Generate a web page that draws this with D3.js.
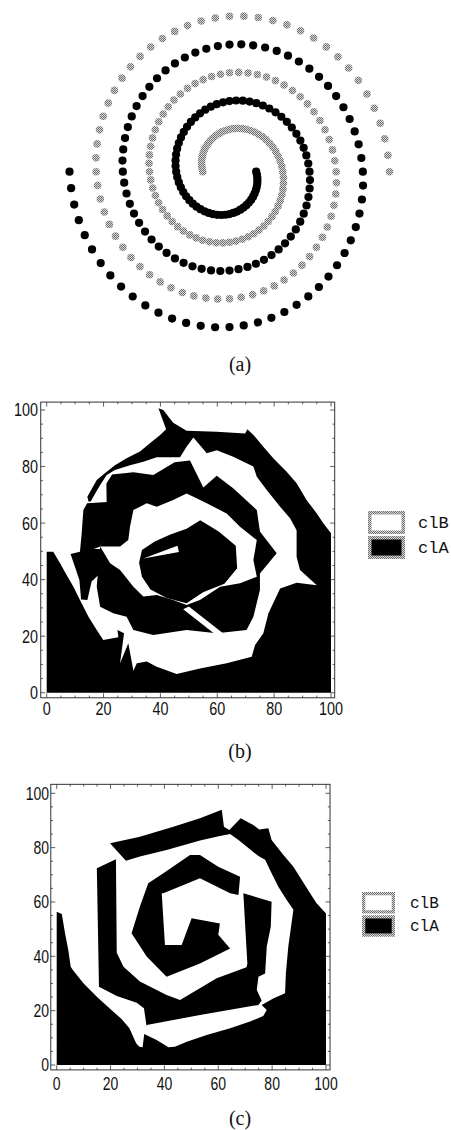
<!DOCTYPE html>
<html><head><meta charset="utf-8">
<script src="https://cdn.jsdelivr.net/npm/d3@7"></script>
<style>html,body{margin:0;padding:0;background:#fff;}svg{display:block}</style>
</head><body>
<svg id="chart" width="451" height="1130"></svg>
<script>
// ---------------- DATA ----------------
// Panel (a): two spirals, polar readings (angle in degrees, radius in spiral units)
const grayAngle = [0,5.6,11.3,16.9,22.5,28.1,33.8,39.4,45,50.6,56.3,61.9,67.5,73.1,78.8,84.4,
90,95.6,101.3,106.9,112.5,118.1,123.8,129.4,135,140.6,146.3,151.9,157.5,163.1,168.8,174.4,
180,185.6,191.3,196.9,202.5,208.1,213.8,219.4,225,230.6,236.3,241.9,247.5,253.1,258.8,264.4,
270,275.6,281.3,286.9,292.5,298.1,303.8,309.4,315,320.6,326.3,331.9,337.5,343.1,348.8,354.4,
360,365.6,371.3,376.9,382.5,388.1,393.8,399.4,405,410.6,416.3,421.9,427.5,433.1,438.8,444.4,
450,455.6,461.3,466.9,472.5,478.1,483.8,489.4,495,500.6,506.3,511.9,517.5,523.1,528.8,534.4,
540,545.6,551.3,556.9,562.5,568.1,573.8,579.4,585,590.6,596.3,601.9,607.5,613.1,618.8,624.4,
630,635.6,641.3,646.9,652.5,658.1,663.8,669.4,675,680.6,686.3,691.9,697.5,703.1,708.8,714.4,
720,725.6,731.3,736.9,742.5,748.1,753.8,759.4,765,770.6,776.3,781.9,787.5,793.1,798.8,804.4,
810,815.6,821.3,826.9,832.5,838.1,843.8,849.4,855,860.6,866.3,871.9,877.5,883.1,888.8,894.4,900];
const blackAngle = [180,185.6,191.3,196.9,202.5,208.1,213.8,219.4,225,230.6,236.3,241.9,247.5,253.1,258.8,264.4,
270,275.6,281.3,286.9,292.5,298.1,303.8,309.4,315,320.6,326.3,331.9,337.5,343.1,348.8,354.4,
360,365.6,371.3,376.9,382.5,388.1,393.8,399.4,405,410.6,416.3,421.9,427.5,433.1,438.8,444.4,
450,455.6,461.3,466.9,472.5,478.1,483.8,489.4,495,500.6,506.3,511.9,517.5,523.1,528.8,534.4,
540,545.6,551.3,556.9,562.5,568.1,573.8,579.4,585,590.6,596.3,601.9,607.5,613.1,618.8,624.4,
630,635.6,641.3,646.9,652.5,658.1,663.8,669.4,675,680.6,686.3,691.9,697.5,703.1,708.8,714.4,
720,725.6,731.3,736.9,742.5,748.1,753.8,759.4,765,770.6,776.3,781.9,787.5,793.1,798.8,804.4,
810,815.6,821.3,826.9,832.5,838.1,843.8,849.4,855,860.6,866.3,871.9,877.5,883.1,888.8,894.4,
900,905.6,911.3,916.9,922.5,928.1,933.8,939.4,945,950.6,956.3,961.9,967.5,973.1,978.8,984.4,
990,995.6,1001.3,1006.9,1012.5,1018.1,1023.8,1029.4,1035,1040.6,1046.3,1051.9,1057.5,1063.1,1068.8,1074.4,1080];
const spiralRadius = [3,2.984,2.969,2.953,2.938,2.922,2.906,2.891,2.875,2.859,2.844,2.828,2.813,2.797,2.781,2.766,
2.75,2.734,2.719,2.703,2.688,2.672,2.656,2.641,2.625,2.609,2.594,2.578,2.563,2.547,2.531,2.516,
2.5,2.484,2.469,2.453,2.438,2.422,2.406,2.391,2.375,2.359,2.344,2.328,2.313,2.297,2.281,2.266,
2.25,2.234,2.219,2.203,2.188,2.172,2.156,2.141,2.125,2.109,2.094,2.078,2.063,2.047,2.031,2.016,
2,1.984,1.969,1.953,1.938,1.922,1.906,1.891,1.875,1.859,1.844,1.828,1.813,1.797,1.781,1.766,
1.75,1.734,1.719,1.703,1.688,1.672,1.656,1.641,1.625,1.609,1.594,1.578,1.563,1.547,1.531,1.516,
1.5,1.484,1.469,1.453,1.438,1.422,1.406,1.391,1.375,1.359,1.344,1.328,1.313,1.297,1.281,1.266,
1.25,1.234,1.219,1.203,1.188,1.172,1.156,1.141,1.125,1.109,1.094,1.078,1.063,1.047,1.031,1.016,
1,0.984,0.969,0.953,0.938,0.922,0.906,0.891,0.875,0.859,0.844,0.828,0.813,0.797,0.781,0.766,
0.75,0.734,0.719,0.703,0.688,0.672,0.656,0.641,0.625,0.609,0.594,0.578,0.563,0.547,0.531,0.516,0.5];

// Panels (b),(c): axis ticks and legend
const tickValues = [0,20,40,60,80,100];
const tickLabels = ["0","20","40","60","80","100"];
const legendLabels = ["clB","clA"];
const legendFills = ["#ffffff","#000000"];
const captions = ["(a)","(b)","(c)"];

// Panel (b): class regions (data coords), drawn in order
const bOuter = [[14.7,67.6],[14.3,69.3],[17.6,75.2],[21.1,78.2],[24.0,80.5],[28.1,82.9],[32.8,85.3],[36.3,88.2],[39.9,91.2],[42.0,93.2],[39.3,100.6],[41.0,100.0],[44.5,95.5],[49.2,92.7],[59.8,92.3],[69.8,91.7],[70.6,93.2],[72.7,91.2],[76.2,87.0],[79.7,82.9],[84.4,78.2],[87.9,74.1],[91.4,68.2],[95.0,63.4],[97.3,59.9],[100,56.4],[100,0],[0,0],[0,49.9],[2.3,49.9],[4.7,45.8],[7.0,41.6],[9.4,37.5],[11.7,32.8],[14.7,26.9],[17.6,22.2],[19.9,18.6],[25.2,19.6],[24.9,22.2],[27.2,21.0],[25.8,10.4],[28.7,17.5],[30.5,7.8],[31.7,10.4],[35.2,11.0],[38.7,9.2],[45.7,6.6],[53.9,8.6],[63.3,10.4],[72.1,12.7],[73.3,16.9],[76.2,21.0],[78.0,28.1],[82.1,36.9],[87.9,38.9],[95.0,38.0],[89.1,43.4],[87.9,48.1],[87.9,57.5],[85.6,61.7],[82.1,65.8],[77.4,71.7],[73.9,76.4],[72.7,80.0],[65.6,83.5],[59.8,85.8],[56.3,84.7],[51.6,90.3],[49.2,87.0],[46.9,83.3],[38.7,83.3],[34.0,81.7],[29.3,80.5],[24.0,78.8],[21.1,77.0],[18.8,73.5],[16.4,69.3],[15.5,67.6]];
const bLeft = [[12.9,64.6],[14.2,67.0],[21.3,67.5],[21.7,57.5],[18.8,51.7],[16.6,50.8],[25.6,50.7],[22.9,45.8],[18.2,41.6],[15.8,39.3],[14.3,32.8],[12.1,33.0],[11.5,39.9],[8.4,49.1],[11.7,49.9],[12.3,56.4]];
const bMiddle = [[21.1,65.8],[21.0,74.0],[23.0,77.2],[30.5,78.0],[37.5,77.0],[45.0,81.5],[50.4,82.1],[55.1,72.6],[59.8,76.7],[65.6,72.3],[73.9,64.6],[75.0,57.0],[80.9,49.3],[75.0,42.2],[75.0,36.3],[72.7,26.9],[70.3,22.2],[59.8,21.0],[49.2,22.2],[37.5,20.4],[30.5,22.2],[28.1,26.9],[23.4,28.1],[18.8,30.4],[17.6,37.5],[18.8,51.7],[21.1,57.5]];
const bInnerWhite = [[18.8,51.7],[25.8,51.7],[28.7,54.0],[29.3,58.7],[30.5,64.6],[35.2,67.0],[38.7,65.8],[44.5,68.2],[49.2,70.5],[51.6,69.3],[56.3,67.0],[63.3,63.4],[68.0,58.7],[73.9,54.0],[72.7,46.9],[73.9,41.0],[68.0,38.7],[61.0,37.5],[53.9,32.8],[49.2,31.0],[44.5,32.8],[38.7,34.6],[34.0,34.0],[30.5,37.5],[25.8,43.4],[22.3,45.8]];
const bCenter = [[33.5,50.5],[38.0,53.5],[43.5,56.0],[49.2,58.0],[54.0,61.0],[60.5,57.0],[66.5,52.0],[67.0,44.0],[62.5,38.5],[55.0,35.5],[49.2,31.6],[42.2,33.5],[36.5,36.5],[33.5,41.0],[32.5,46.0]];
const bSpur = [[34.0,47.5],[46.0,52.0],[46.5,49.8]];
const bSlit = [[48.0,29.5],[50.0,30.5],[66.5,17.5],[64.5,16.5]];

// Panel (c): class regions (data coords)
const cOuter = [[19.8,81.6],[30.9,84.0],[43.3,87.7],[53.2,90.8],[61.3,93.9],[62.1,87.7],[64.1,86.5],[68.3,90.8],[73.0,88.3],[75.2,86.7],[78.6,87.1],[79.8,82.8],[84.2,77.3],[87.9,73.0],[91.0,68.1],[94.1,63.2],[96.5,59.5],[100,55.8],[100,0],[0,0],[0,56.4],[1.9,55.6],[3.1,48.5],[4.3,42.3],[5.2,36.2],[6.0,35.0],[10.0,30.0],[15.0,25.0],[20.0,20.5],[24.0,17.0],[27.0,13.5],[29.5,8.0],[30.7,6.7],[31.9,6.5],[32.5,11.4],[37.1,9.2],[41.5,6.5],[43.9,6.7],[48.3,8.6],[55.7,11.0],[64.4,13.5],[71.8,16.0],[76.7,18.0],[78.0,20.2],[76.1,22.1],[80.4,24.5],[84.8,26.4],[85.1,33.7],[86.0,43.6],[87.9,57.1],[85.4,60.7],[82.3,65.6],[79.8,70.6],[77.4,75.5],[74.9,76.9],[70.5,80.4],[67.5,82.8],[64.4,85.0],[60.6,84.3],[53.2,82.6],[40.8,79.1],[30.9,76.7],[25.7,75.2]];
const cArm2 = [[14.9,72.4],[22.0,75.7],[22.3,41.3],[24.8,36.2],[30.9,30.7],[40.8,25.8],[45.8,23.9],[59.4,31.9],[70.5,36.0],[70.8,37.4],[69.3,63.2],[68.7,63.4],[79.8,60.1],[79.5,50.9],[78.0,43.6],[77.4,33.7],[74.9,32.5],[74.3,27.6],[76.1,23.7],[74.9,22.1],[53.2,18.4],[33.4,14.7],[33.4,14.1],[32.4,20.9],[29.7,22.9],[22.3,25.4],[15.7,28.8]];
const cArm3 = [[27.8,48.5],[30.9,58.3],[34.0,66.9],[39.6,70.6],[49.5,77.3],[53.2,77.3],[60.0,73.0],[68.1,69.3],[67.5,62.6],[64.4,63.2],[53.2,68.7],[39.6,63.2],[39.0,63.2],[40.2,44.2],[46.4,44.2],[50.1,54.0],[60.6,52.1],[60.0,47.9],[64.4,42.9],[53.2,37.4],[40.8,32.5],[33.4,39.9]];

// ---------------- DRAWING ----------------
const svg = d3.select("#chart");
const defs = svg.append("defs");
const pat = defs.append("pattern").attr("id","halftone").attr("width",2).attr("height",2).attr("patternUnits","userSpaceOnUse");
pat.append("rect").attr("width",2).attr("height",2).attr("fill","#dadada");
pat.append("rect").attr("width",1).attr("height",1).attr("fill","#6e6e6e");
pat.append("rect").attr("x",1).attr("y",1).attr("width",1).attr("height",1).attr("fill","#6e6e6e");

// Panel (a)
const xa = d3.scaleLinear().domain([-3,3]).range([69.5,389.5]);
const ya = d3.scaleLinear().domain([-3,3]).range([341.2,2.2]);
function spiral(angles){
  return angles.map((a,i)=>{const t=a*Math.PI/180;return [spiralRadius[i]*Math.cos(t), spiralRadius[i]*Math.sin(t)];});
}
const ga = svg.append("g");
ga.selectAll("circle.g").data(spiral(grayAngle)).join("circle")
  .attr("cx",d=>xa(d[0])).attr("cy",d=>ya(d[1])).attr("r",3.8).attr("fill","url(#halftone)");
ga.selectAll("circle.b").data(spiral(blackAngle)).join("circle")
  .attr("cx",d=>xa(d[0])).attr("cy",d=>ya(d[1])).attr("r",4.1).attr("fill","#000");

function caption(txt, cx, base){
  svg.append("text").attr("x",cx).attr("y",base).attr("text-anchor","middle")
    .attr("font-family","'Liberation Serif','Times New Roman',serif").attr("font-size",20).attr("fill","#111").text(txt);
}
caption(captions[0],240,371);
caption(captions[1],240,758);
caption(captions[2],240,1125);

function panel(P){
  const x = d3.scaleLinear().domain([0,100]).range([P.x0,P.x100]);
  const y = d3.scaleLinear().domain([0,100]).range([P.y0,P.y100]);
  const g = svg.append("g");
  const line = d3.line().x(d=>x(d[0])).y(d=>y(d[1])).curve(d3.curveLinearClosed);
  P.regions.forEach(r=>g.append("path").attr("d",line(r.pts)).attr("fill",r.fill));
  const fx0=x(P.fx[0]), fx1=x(P.fx[1]), fyb=y(P.fy[0]), fyt=y(P.fy[1]);
  g.append("rect").attr("x",fx0).attr("y",fyt).attr("width",fx1-fx0).attr("height",fyb-fyt)
    .attr("fill","none").attr("stroke","#333").attr("stroke-width",1);
  const tk = g.append("g").attr("stroke","#333").attr("stroke-width",0.8);
  x.ticks(20).forEach(v=>{const L = (v%20===0)?4.5:2.2;
    tk.append("line").attr("x1",x(v)).attr("x2",x(v)).attr("y1",fyb).attr("y2",fyb-L);
    tk.append("line").attr("x1",x(v)).attr("x2",x(v)).attr("y1",fyt).attr("y2",fyt+L);});
  y.ticks(20).forEach(v=>{const L = (v%20===0)?4.5:2.2;
    tk.append("line").attr("y1",y(v)).attr("y2",y(v)).attr("x1",fx0).attr("x2",fx0+L);
    tk.append("line").attr("y1",y(v)).attr("y2",y(v)).attr("x1",fx1).attr("x2",fx1-L);});
  const fontFam = "'Liberation Sans',Arial,sans-serif";
  tickValues.forEach((v,i)=>{
    g.append("text").attr("transform",`translate(${x(v)},${P.xLabBase}) scale(0.8,1)`)
      .attr("text-anchor","middle").attr("font-family",fontFam).attr("font-size",P.fs).attr("fill","#111").text(tickLabels[i]);
    g.append("text").attr("transform",`translate(${P.yLabRight},${y(v)+P.fs*0.36}) scale(0.8,1)`)
      .attr("text-anchor","end").attr("font-family",fontFam).attr("font-size",P.fs).attr("fill","#111").text(tickLabels[i]);
  });
  legendLabels.forEach((lab,i)=>{
    const by = P.leg.y + i*P.leg.step;
    g.append("rect").attr("x",P.leg.x).attr("y",by).attr("width",P.leg.w).attr("height",P.leg.h).attr("fill","url(#halftone)");
    g.append("rect").attr("x",P.leg.x+P.leg.b).attr("y",by+P.leg.b).attr("width",P.leg.w-2*P.leg.b).attr("height",P.leg.h-2*P.leg.b).attr("fill",legendFills[i]);
    g.append("text").attr("x",P.leg.tx).attr("y",by+P.leg.h-P.leg.dy).attr("font-family","'Liberation Mono','Courier New',monospace")
      .attr("font-size",P.leg.fs).attr("fill","#111").text(lab);
  });
}

panel({x0:46.7,x100:331,y0:692.7,y100:410,fx:[-2.1,101.3],fy:[-1.8,102.8],
  xLabBase:714.5,yLabRight:38,fs:18,
  leg:{x:368,y:511,w:37,h:23,step:25,b:3.5,tx:418,dy:6,fs:17},
  regions:[{pts:bOuter,fill:"#000"},{pts:bLeft,fill:"#000"},{pts:bMiddle,fill:"#000"},{pts:bInnerWhite,fill:"#fff"},{pts:bCenter,fill:"#000"},{pts:bSpur,fill:"#fff"},{pts:bSlit,fill:"#fff"}]});

panel({x0:56.7,x100:326,y0:1065,y100:793.3,fx:[-2.2,101.5],fy:[-1.8,103.3],
  xLabBase:1089.5,yLabRight:49,fs:17.5,
  leg:{x:362,y:892,w:33,h:21.5,step:23.2,b:3.3,tx:410,dy:5.5,fs:16},
  regions:[{pts:cOuter,fill:"#000"},{pts:cArm2,fill:"#000"},{pts:cArm3,fill:"#000"}]});
</script>
</body></html>
